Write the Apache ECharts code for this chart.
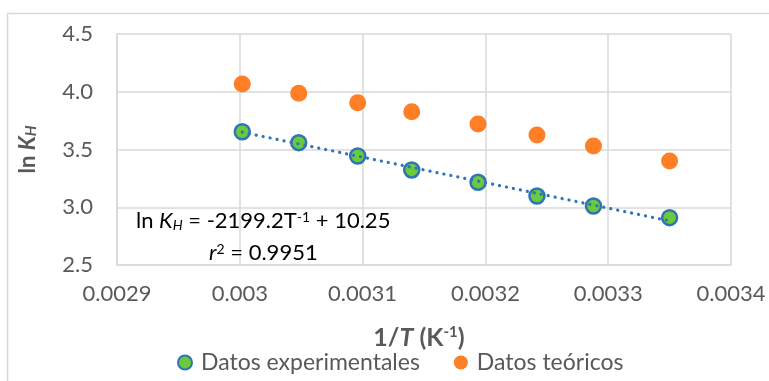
<!DOCTYPE html>
<html>
<head>
<meta charset="utf-8">
<script src="https://cdn.jsdelivr.net/npm/echarts@6/dist/echarts.min.js"></script>
<style>html,body{margin:0;padding:0;background:#fff;}#c{width:769px;height:381px;}</style>
</head>
<body>
<div id="c"></div>
<script>
// Data
var invT = [0.003002, 0.003048, 0.003096, 0.003140, 0.003194, 0.003242, 0.003288, 0.003350];
var lnKexp = [3.654, 3.559, 3.444, 3.323, 3.216, 3.097, 3.011, 2.910];
var lnKteo = [4.067, 3.987, 3.905, 3.827, 3.721, 3.626, 3.530, 3.400];
var trendX = [0.003002, 0.003350];
var trendY = [3.650, 2.882];
var seriesNames = ['Datos experimentales', 'Datos teóricos'];
var xTicks = {min: 0.0029, max: 0.0034, interval: 0.0001};
var yTicks = {min: 2.5, max: 4.5, interval: 0.5};

function pairs(xs, ys){ return xs.map(function(x,i){ return [x, ys[i]]; }); }

var FONT = 'Lato';
var GRAY = '#595959';
var chart = echarts.init(document.getElementById('c'), null, {renderer:'canvas'});
chart.setOption({
  animation: false,
  backgroundColor: '#fff',
  textStyle: {fontFamily: FONT},
  grid: {left: 117, top: 34, right: 38, bottom: 116, containLabel: false},
  xAxis: {
    type: 'value', min: xTicks.min, max: xTicks.max, interval: xTicks.interval,
    axisLine: {show: true, lineStyle: {color: '#d9d9d9', width: 1.5}},
    axisTick: {show: false},
    splitLine: {show: true, lineStyle: {color: '#d9d9d9', width: 1.5}},
    axisLabel: {color: GRAY, fontSize: 22, fontFamily: FONT, margin: 18,
      formatter: function(v){ return String(parseFloat((+v).toFixed(5))); }},
    name: '{b|1/}{bi|T}{b| (K}{sup|-1}{b|)}',
    nameLocation: 'middle', nameGap: 60,
    nameTextStyle: {padding: [0, 10, 0, 0], rich: {
      b: {fontSize: 25, fontWeight: 'bold', color: GRAY, fontFamily: FONT},
      bi: {fontSize: 25, fontWeight: 'bold', fontStyle: 'italic', color: GRAY, fontFamily: FONT},
      sup: {fontSize: 15, fontWeight: 'bold', color: GRAY, fontFamily: FONT, verticalAlign: 'top'}
    }}
  },
  yAxis: {
    type: 'value', min: yTicks.min, max: yTicks.max, interval: yTicks.interval,
    axisLine: {show: true, lineStyle: {color: '#d9d9d9', width: 1.5}},
    axisTick: {show: false},
    splitLine: {show: true, lineStyle: {color: '#d9d9d9', width: 1.5}},
    axisLabel: {color: GRAY, fontSize: 22, fontFamily: FONT, margin: 24,
      formatter: function(v){ return (+v).toFixed(1); }},
    name: '{b|ln }{bi|K}{sub|H}',
    nameLocation: 'middle', nameGap: 78, nameRotate: 90,
    nameTextStyle: {rich: {
      b: {fontSize: 22, fontWeight: 'bold', color: GRAY, fontFamily: FONT},
      bi: {fontSize: 22, fontWeight: 'bold', fontStyle: 'italic', color: GRAY, fontFamily: FONT},
      sub: {fontSize: 15, fontWeight: 'bold', fontStyle: 'italic', color: GRAY, fontFamily: FONT, verticalAlign: 'bottom'}
    }}
  },
  legend: {
    data: seriesNames,
    left: 172, top: 346,
    itemWidth: 14, itemHeight: 14, itemGap: 34,
    icon: 'circle',
    textStyle: {color: GRAY, fontSize: 23, fontFamily: FONT, padding: [0,0,0,4]}
  },
  series: [
    {
      name: seriesNames[0], type: 'scatter', data: pairs(invT, lnKexp),
      symbol: 'circle', symbolSize: 15, z: 3,
      itemStyle: {color: '#6BC93D', borderColor: '#2E75B6', borderWidth: 2.5, opacity: 1}
    },
    {
      name: seriesNames[1], type: 'scatter', data: pairs(invT, lnKteo),
      symbol: 'circle', symbolSize: 17, z: 3,
      itemStyle: {color: '#FF7F27', opacity: 1}
    },
    {
      name: 'Tendencia', type: 'line', data: pairs(trendX, trendY),
      showSymbol: false, symbol: 'none', z: 5, silent: true,
      lineStyle: {color: '#2E75B6', width: 3.2, type: [0.1, 7], cap: 'round'}
    }
  ],
  graphic: [
    {type: 'rect', silent: true, z: -1, shape: {x: 7.5, y: 13.5, width: 800, height: 400},
     style: {fill: 'none', stroke: '#d9d9d9', lineWidth: 1.5}},
    {type: 'text', left: 136, top: 210, z: 10,
     style: {text: '{n|ln }{i|K}{sub|H}{n| = -2199.2T}{sup|-1}{n| + 10.25}',
       rich: {
         n: {fontSize: 22, color: GRAY, fontFamily: FONT},
         i: {fontSize: 22, fontStyle: 'italic', color: GRAY, fontFamily: FONT},
         sub: {fontSize: 14, fontStyle: 'italic', color: GRAY, fontFamily: FONT, verticalAlign: 'bottom'},
         sup: {fontSize: 14, color: GRAY, fontFamily: FONT, verticalAlign: 'top'}
       }}},
    {type: 'text', left: 209, top: 242, z: 10,
     style: {text: '{i|r}{sup|2}{n| = 0.9951}',
       rich: {
         n: {fontSize: 22, color: GRAY, fontFamily: FONT},
         i: {fontSize: 22, fontStyle: 'italic', color: GRAY, fontFamily: FONT},
         sup: {fontSize: 14, color: GRAY, fontFamily: FONT, verticalAlign: 'top'}
       }}}
  ]
});
</script>
</body>
</html>
